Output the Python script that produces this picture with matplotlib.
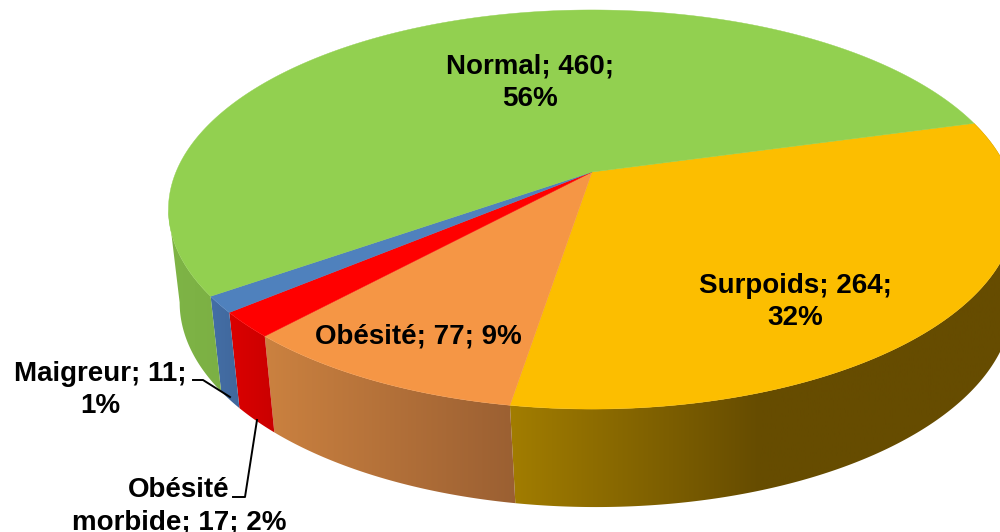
import numpy as np
import matplotlib
matplotlib.use("Agg")
import matplotlib.pyplot as plt
from matplotlib.colors import LinearSegmentedColormap
from matplotlib.patches import Polygon

plt.rcParams['font.family'] = ['Liberation Sans', 'DejaVu Sans']

# data, in the order the slices run clockwise
categories = ["Surpoids", "Obésité", "Obésité morbide", "Maigreur", "Normal"]
values = [264, 77, 17, 11, 460]
percents = [32, 9, 2, 1, 56]
label_formats = ["{n}; {v};\n{p}%", "{n}; {v}; {p}%", "Obésité\nmorbide; {v}; {p}%", "{n}; {v};\n{p}%", "{n}; {v};\n{p}%"]
top_colors = ["#FCBE00", "#F59645", "#FF0000", "#4F81BD", "#92D050"]
wall_stops = [
    [(505, "#A37E00"), (760, "#664C00"), (1030, "#664C00")],
    [(260, "#CC8240"), (520, "#9A5F32")],
    [(225, "#DD0000"), (280, "#C80000")],
    [(205, "#4470A8"), (245, "#40669A")],
    [(160, "#7FB546"), (230, "#7BAF44")],
]
label_pos = [(795, 302), (418, 336), (179, 506), (100, 390), (530, 83)]

# projection of the pie disc to pixels
APEX_X, APEX_Y = 592, 172
A, C, K = 416, 192.5, 0.188
START_DEG = 15.4
CENTER_OFF = 37.5   # ellipse centre below apex
DEPTH = 93
SCALE_X, SCALE_Y = 0.983, 1.025
LOW_SHIFT = 4


def top_rim(t):
    d = 1 + K * np.sin(t)
    return APEX_X + A * np.cos(t) / d, APEX_Y - C * np.sin(t) / d


def low_rim(t):
    x, y = top_rim(t)
    cy = APEX_Y + CENTER_OFF
    return APEX_X + LOW_SHIFT + (x - APEX_X) * SCALE_X, cy + DEPTH + (y - cy) * SCALE_Y


fig = plt.figure(figsize=(10, 5.32), dpi=100)
ax = fig.add_axes([0, 0, 1, 1])

total = sum(values)
sweeps = np.radians(np.array(values) / total * 360)
starts = np.radians(START_DEG) - np.concatenate([[0], np.cumsum(sweeps)[:-1]])
ends = starts - sweeps

# side walls first
for i in range(len(values)):
    t0 = starts[i]
    t1 = ends[i]
    # the Normal wall stops at the leftmost point of the rim, the back is hidden
    if i == len(values) - 1:
        t1 = -np.pi + np.arcsin(K)
    t = np.linspace(t0, t1, 200)
    xt, yt = top_rim(t)
    xl, yl = low_rim(t)
    verts = np.column_stack([np.concatenate([xt, xl[::-1]]), np.concatenate([yt, yl[::-1]])])
    poly = Polygon(verts, closed=True, facecolor='none', edgecolor='none')
    ax.add_patch(poly)
    stops = wall_stops[i]
    x0, x1 = stops[0][0], stops[-1][0]
    cmap = LinearSegmentedColormap.from_list(
        "wall", [((s[0] - x0) / (x1 - x0), s[1]) for s in stops])
    grad = np.linspace(0, 1, 256).reshape(1, -1)
    im = ax.imshow(grad, cmap=cmap, extent=[x0, x1, 532, 0], aspect='auto', zorder=1)
    im.set_clip_path(poly)

# top faces
for i in range(len(values)):
    t = np.linspace(starts[i], ends[i], 300)
    x, y = top_rim(t)
    verts = np.column_stack([np.concatenate([[APEX_X], x]), np.concatenate([[APEX_Y], y])])
    ax.add_patch(Polygon(verts, closed=True, facecolor=top_colors[i],
                         edgecolor=top_colors[i], linewidth=0.3, zorder=2))

ax.set_xlim(0, 1000)
ax.set_ylim(532, 0)
ax.axis('off')

# leader lines
ax.plot([193, 203, 230], [380, 380, 397], color='black', lw=1.4, zorder=3)
ax.plot([233, 245, 257], [497, 497, 420], color='black', lw=1.4, zorder=3)

# labels
for i, name in enumerate(categories):
    txt = label_formats[i].format(n=name, v=values[i], p=percents[i])
    ax.text(label_pos[i][0], label_pos[i][1], txt, ha='center', va='center',
            fontsize=20, fontweight='bold', color='black', linespacing=1.3, zorder=4)

plt.savefig("out.png", dpi=100)
plt.close()
